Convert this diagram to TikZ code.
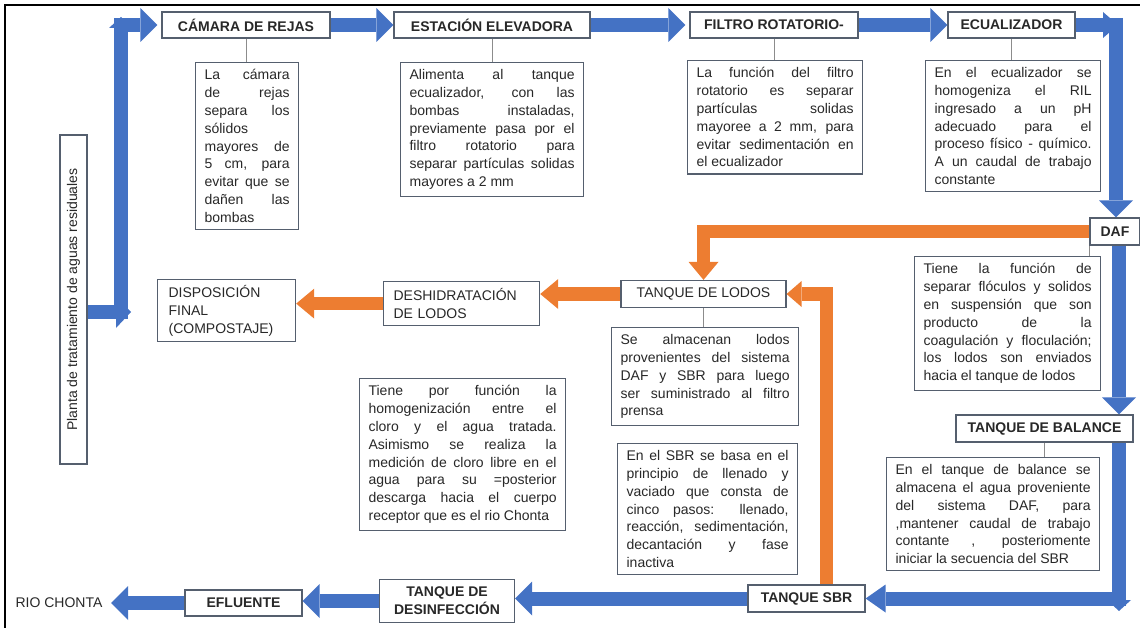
\documentclass[tikz,border=0pt]{standalone}
\usepackage{fontspec}
\setmainfont{Liberation Sans}
\usetikzlibrary{arrows.meta}
\definecolor{bluecol}{RGB}{68,114,196}
\definecolor{orangecol}{RGB}{237,125,49}
\definecolor{bordercol}{RGB}{85,95,110}
\definecolor{conncol}{RGB}{140,140,140}
\definecolor{textcol}{RGB}{40,40,40}
\newcommand{\myfs}{\fontsize{14}{17.8}\selectfont}
\tolerance=10000 \hbadness=10000 \hfuzz=30pt \hyphenpenalty=10000
\begin{document}
\begin{tikzpicture}[x=1pt,y=-1pt,
 tbox/.style={draw=bordercol, line width=1.2pt, fill=white, text=textcol, font=\myfs, align=justify, inner xsep=9pt, inner ysep=7pt, anchor=north west},
 hbox/.style={draw=bordercol, line width=1.2pt, fill=white, text=textcol, font=\myfs\bfseries, inner sep=0pt, minimum height=26pt},
 pbox/.style={draw=bordercol, line width=1.2pt, fill=white, text=textcol, font=\myfs, inner sep=0pt},
 barrow/.style={draw=bluecol, line width=14pt, line join=miter, -{Triangle[length=17pt,width=34pt,line width=0pt]}},
 sbarrow/.style={draw=bluecol, line width=14pt, -{Triangle[length=11pt,width=24pt,line width=0pt]}},
 oarrow/.style={draw=orangecol, line width=13pt, line join=miter, -{Triangle[length=18pt,width=30pt,line width=0pt]}},
 conn/.style={draw=conncol, line width=0.9pt}
]
\useasboundingbox (0,0) rectangle (1140,628);
\draw[line width=2.5pt, black] (5,628) -- (5,5) -- (1140,5);

% vertical title
\node[pbox, rotate=90, minimum width=329pt, minimum height=27pt] (planta) at (73.5,299.5) {Planta de tratamiento de aguas residuales};

% header boxes
\node[hbox, minimum width=168pt] (cam) at (246,25) {CÁMARA DE REJAS};
\node[hbox, minimum width=196pt] (est) at (492,25) {ESTACIÓN ELEVADORA};
\node[hbox, minimum width=168pt] (fil) at (774,25) {FILTRO ROTATORIO-};
\node[hbox, minimum width=127pt] (ecu) at (1011.5,25) {ECUALIZADOR};
\node[hbox, minimum width=50pt, minimum height=27pt] (daf) at (1115,231.5) {DAF};
\node[hbox, minimum width=177pt, minimum height=27pt] (bal) at (1044.5,428.5) {TANQUE DE BALANCE};
\node[hbox, minimum width=117pt, minimum height=27pt] (sbr) at (806.5,598.5) {TANQUE SBR};
\node[hbox, minimum width=135pt, minimum height=43pt, align=center] (des) at (447,601) {TANQUE DE\\DESINFECCIÓN};
\node[hbox, minimum width=117pt] (efl) at (243.5,603) {EFLUENTE};
\node[text=textcol, font=\myfs, inner sep=0pt] (rio) at (59,603) {RIO CHONTA};
\node[pbox, minimum width=165pt, minimum height=27pt] (lodos) at (703.5,294) {TANQUE DE LODOS};
\node[pbox, anchor=north west, text width=136pt, inner xsep=10pt, minimum height=44pt, align=left] (desh) at (383,281) {DESHIDRATACIÓN\\DE LODOS};
\node[pbox, anchor=north west, text width=116pt, inner xsep=11pt, minimum height=62pt, align=left] (disp) at (157,279) {DISPOSICIÓN\\FINAL\\(COMPOSTAJE)};

% description boxes
\node[tbox, text width=85pt] (camtxt) at (195,62) {La cámara\linebreak de rejas\linebreak separa los\linebreak sólidos\linebreak mayores de\linebreak 5 cm, para\linebreak evitar que se\linebreak dañen las\linebreak bombas};
\node[tbox, text width=165pt] (esttxt) at (400,62) {Alimenta al tanque\linebreak ecualizador, con las\linebreak bombas instaladas,\linebreak previamente pasa por el\linebreak filtro rotatorio para\linebreak separar partículas solidas\linebreak mayores a 2 mm};
\node[tbox, text width=157pt] (filtxt) at (687,60) {La función del filtro\linebreak rotatorio es separar\linebreak partículas solidas\linebreak mayoree a 2 mm, para\linebreak evitar sedimentación en\linebreak el ecualizador};
\node[tbox, text width=157pt] (ecutxt) at (925,60) {En el ecualizador se\linebreak homogeniza el RIL\linebreak ingresado a un pH\linebreak adecuado para el\linebreak proceso físico - químico.\linebreak A un caudal de trabajo\linebreak constante};
\node[tbox, text width=168pt] (daftxt) at (914,256) {Tiene la función de\linebreak separar flóculos y solidos\linebreak en suspensión que son\linebreak producto de la\linebreak coagulación y floculación;\linebreak los lodos son enviados\linebreak hacia el tanque de lodos};
\node[tbox, text width=169pt] (lodostxt) at (611,327) {Se almacenan lodos\linebreak provenientes del sistema\linebreak DAF y SBR para luego\linebreak ser suministrado al filtro\linebreak prensa};
\node[tbox, text width=195pt] (baltxt) at (886,457) {En el tanque de balance se\linebreak almacena el agua proveniente\linebreak del sistema DAF, para\linebreak ,mantener caudal de trabajo\linebreak contante , posteriomente\linebreak iniciar la secuencia del SBR};
\node[tbox, text width=188pt] (destxt) at (359,378) {Tiene por función la\linebreak homogenización entre el\linebreak cloro y el agua tratada.\linebreak Asimismo se realiza la\linebreak medición de cloro libre en el\linebreak agua para su =posterior\linebreak descarga hacia el cuerpo\linebreak receptor que es el rio Chonta};
\node[tbox, text width=162pt] (sbrtxt) at (617,443) {En el SBR se basa en el\linebreak principio de llenado y\linebreak vaciado que consta de\linebreak cinco pasos: llenado,\linebreak reacción, sedimentación,\linebreak decantación y fase\linebreak inactiva};

% thin connectors
\draw[conn] (cam.south) -- (cam.south |- camtxt.north);
\draw[conn] (est.south) -- (est.south |- esttxt.north);
\draw[conn] (fil.south) -- (fil.south |- filtxt.north);
\draw[conn] (ecu.south) -- (ecu.south |- ecutxt.north);
\draw[conn] (lodos.south) -- (lodos.south |- lodostxt.north);
\draw[conn] (daf.south west) -- (daf.south west |- daftxt.north);
\draw[conn] (bal.south) -- (bal.south |- baltxt.north);

% blue flow
\coordinate (c0) at (121,319);
\coordinate (c1) at (121,312);
\coordinate (c1tip) at (131,312);
\coordinate (c2) at (121,17);
\coordinate (c3) at (114,25);
\draw[barrow, -{Triangle[length=15pt,width=32pt,line width=0pt]}] (planta.south |- c1) -- (c1tip);
\draw[sbarrow] (c0) -- (c2);
\draw[barrow, shorten >=4pt] (c3) -- (cam.west);
\draw[barrow] (cam.east) -- (est.west);
\draw[barrow, shorten >=4pt] (est.east) -- (fil.west);
\draw[barrow] (fil.east) -- (ecu.west);
\coordinate (e1) at (1118,25);
\draw[barrow, -{Triangle[length=15pt,width=26pt,line width=0pt]}] (ecu.east) -- (e1);
\coordinate (e2) at (1116,18);
\draw[barrow] (e2) -- (e2 |- daf.north);
\coordinate (xr) at (1119,0);
\draw[barrow] (daf.south -| xr) -- (bal.north -| xr);
\coordinate (e3) at (1119,611);
\draw[sbarrow] (bal.south -| xr) -- (e3);
\coordinate (e4) at (1126,598.5);
\draw[barrow, -{Triangle[length=20pt,width=28pt,line width=0pt]}] (e4) -- (sbr.east);
\draw[barrow] (sbr.west) -- (sbr.west -| des.east);
\draw[barrow] (des.west) -- (des.west -| efl.east);
\draw[barrow, shorten >=8.5pt] (efl.west) -- (rio.east);

% orange sludge flow
\coordinate (ox) at (826,0);
\draw[oarrow] (daf.west) -| (lodos.north);
\draw[oarrow] (lodos.west) -- (lodos.west -| desh.east);
\draw[oarrow] (desh.west) -- (desh.west -| disp.east);
\draw[oarrow, -{Triangle[length=15pt,width=26pt,line width=0pt]}] (sbr.north -| ox) |- (lodos.east);
\end{tikzpicture}
\end{document}
